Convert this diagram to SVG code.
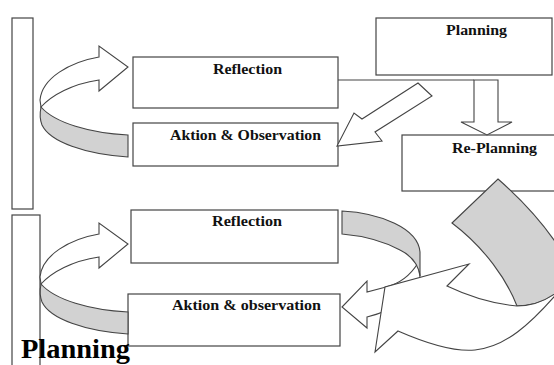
<svg xmlns="http://www.w3.org/2000/svg" width="554" height="365" viewBox="0 0 554 365">
<style>
.box{fill:#fff;stroke:#444;stroke-width:1.2}
.lbl{font-family:"Liberation Serif","Times New Roman",serif;font-weight:bold;font-size:14px;fill:#111}
.big{font-family:"Liberation Serif","Times New Roman",serif;font-weight:bold;font-size:28px;fill:#000}
.wa{fill:#fff;stroke:#444;stroke-width:1.1;stroke-linejoin:miter}
.ga{fill:#d2d2d2;stroke:#444;stroke-width:1.1}
.ln{fill:none;stroke:#444;stroke-width:1.1}
</style>
<rect width="554" height="365" fill="#fff"/>
<g id="bar-top"><rect class="box" x="12" y="18" width="21" height="191"/></g>
<g id="bar-bottom"><rect class="box" x="12" y="215" width="28" height="160"/></g>
<g id="planning"><rect class="box" x="376" y="18" width="176" height="57"/><text class="lbl" x="446" y="35" textLength="61" lengthAdjust="spacingAndGlyphs">Planning</text></g>
<g id="reflection1"><rect class="box" x="133" y="57" width="205" height="51"/><text class="lbl" x="213" y="74" textLength="69" lengthAdjust="spacingAndGlyphs">Reflection</text></g>
<g id="aktion1"><rect class="box" x="133" y="123" width="205" height="43"/><text class="lbl" x="170" y="140" textLength="151" lengthAdjust="spacingAndGlyphs">Aktion &amp; Observation</text></g>
<g id="replanning"><rect class="box" x="402" y="135" width="160" height="56"/><text class="lbl" x="452" y="153" textLength="85" lengthAdjust="spacingAndGlyphs">Re-Planning</text></g>
<g id="reflection2"><rect class="box" x="131" y="210" width="207" height="53"/><text class="lbl" x="212" y="226" textLength="70" lengthAdjust="spacingAndGlyphs">Reflection</text></g>
<g id="aktion2"><rect class="box" x="128" y="294" width="212" height="52"/><text class="lbl" x="172" y="310" textLength="149" lengthAdjust="spacingAndGlyphs">Aktion &amp; observation</text></g>
<g id="connectors">
<line class="ln" x1="338" y1="80" x2="474" y2="80"/>
<polygon class="wa" points="474,80 498,80 498,122 512,122 487,135 461,122 474,122"/>
<polygon class="wa" points="418,83 432,96 375,132 382,141 337,146 354,113 362,119"/>
<g id="loop1">
<path class="wa" d="M99,57 C70,62 42,78 40,100 L41,107 C52,95 72,84 99,80 L99,91 L128,67 L99,46 Z"/>
<path class="ga" d="M41,107 C55,123 90,133 128,135 L128,157 C85,154 50,142 42,125 C40,120 40,112 41,107 Z"/>
</g>
<g id="loop2" transform="translate(0,177)">
<path class="wa" d="M99,57 C70,62 42,78 40,100 L41,107 C52,95 72,84 99,80 L99,91 L128,67 L99,46 Z"/>
<path class="ga" d="M41,107 C55,123 90,133 128,135 L128,157 C85,154 50,142 42,125 C40,120 40,112 41,107 Z"/>
</g>
<g id="arrowA">
<path class="wa" d="M367,292 L367,281 L342,307 L367,328 L367,317 C395,310 418,295 420,276 L418,263 C410,276 398,284 386,287 L367,292 Z"/>
<path class="ga" d="M342,211 C380,213 418,228 420,252 L420,276 C418,262 410,255 400,250 C385,242 365,236 342,234 Z"/>
</g>
<g id="arrowB">
<path class="ga" d="M452,223 L498,179 C522,200 545,225 562,252 L562,292 C545,302 530,306 517,306 C507,280 485,248 452,223 Z"/>
<path class="wa" d="M447,286 L469,264 L385,287 L375,352 L398,331 C430,345 455,352 475,350 C505,347 530,325 560,290 C545,302 530,306 517,306 C495,304 470,297 447,286 Z"/>
</g>
</g>
<text class="big" x="21" y="358" textLength="109" lengthAdjust="spacingAndGlyphs">Planning</text>
</svg>
